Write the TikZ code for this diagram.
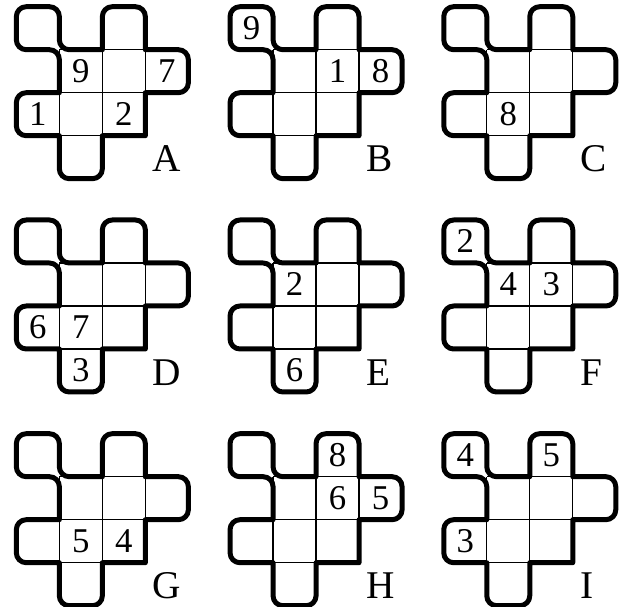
\documentclass[tikz,border=0pt]{standalone}
\usepackage{fontspec}
\setmainfont{Liberation Serif}
\usetikzlibrary{positioning}
\newcommand{\rr}{0.23}

\begin{document}
\begin{tikzpicture}[
      gridline/.style={line width=0.8pt},
      outline/.style={line width=3.3pt,line join=round},
      digit/.style={inner sep=0pt,font=\fontsize{23}{23}\selectfont},
      tag/.style={inner sep=0pt,anchor=base west,font=\fontsize{26}{26}\selectfont}]
    \useasboundingbox (0,0) rectangle (14.465,14.116);
    \foreach \px/\py/\lbl/\nums in {
        1.38/10.96/A/{0.5/1.5/9, 2.5/1.5/7, -0.5/0.5/1, 1.5/0.5/2},
        6.35/10.96/B/{-0.5/2.5/9, 1.5/1.5/1, 2.5/1.5/8},
        11.32/10.96/C/{0.5/0.5/8},
        1.38/6.00/D/{-0.5/0.5/6, 0.5/0.5/7, 0.5/-0.5/3},
        6.35/6.00/E/{0.5/1.5/2, 0.5/-0.5/6},
        11.32/6.00/F/{-0.5/2.5/2, 0.5/1.5/4, 1.5/1.5/3},
        1.38/1.03/G/{0.5/0.5/5, 1.5/0.5/4},
        6.35/1.03/H/{1.5/2.5/8, 1.5/1.5/6, 2.5/1.5/5},
        11.32/1.03/I/{-0.5/2.5/4, 1.5/2.5/5, -0.5/0.5/3}} {
      \begin{scope}[shift={(\px,\py)}]
        % inner cells
        \draw[gridline] (0,0) grid (2,2);
        % outer border
        \draw[outline] (\rr,2) -- (1,2) -- (1,3-\rr)
          arc[start angle=180, end angle=90, radius=\rr] -- (2-\rr,3)
          arc[start angle=90, end angle=0, radius=\rr] -- (2,2) -- (3-\rr,2)
          arc[start angle=90, end angle=0, radius=\rr] -- (3,1+\rr)
          arc[start angle=0, end angle=-90, radius=\rr] -- (2,1) -- (2,0) -- (1,0) -- (1,-1+\rr)
          arc[start angle=0, end angle=-90, radius=\rr] -- (\rr,-1)
          arc[start angle=-90, end angle=-180, radius=\rr] -- (0,0) -- (-1+\rr,0)
          arc[start angle=-90, end angle=-180, radius=\rr] -- (-1,1-\rr)
          arc[start angle=180, end angle=90, radius=\rr] -- (0,1) -- (0,2-\rr)
          arc[start angle=0, end angle=90, radius=\rr] -- (-1+\rr,2)
          arc[start angle=-90, end angle=-180, radius=\rr] -- (-1,3-\rr)
          arc[start angle=180, end angle=90, radius=\rr] -- (-\rr,3)
          arc[start angle=90, end angle=0, radius=\rr] -- (0,2+\rr)
          arc[start angle=180, end angle=270, radius=\rr] -- cycle;
        \foreach \cx/\cy/\d in \nums
          \node[digit] (\lbl\d) at (\cx,\cy) {\d};
        \node[tag] (lbl\lbl) at (2.17,-0.84) {\lbl};
      \end{scope}
    }
  \end{tikzpicture}
\end{document}
